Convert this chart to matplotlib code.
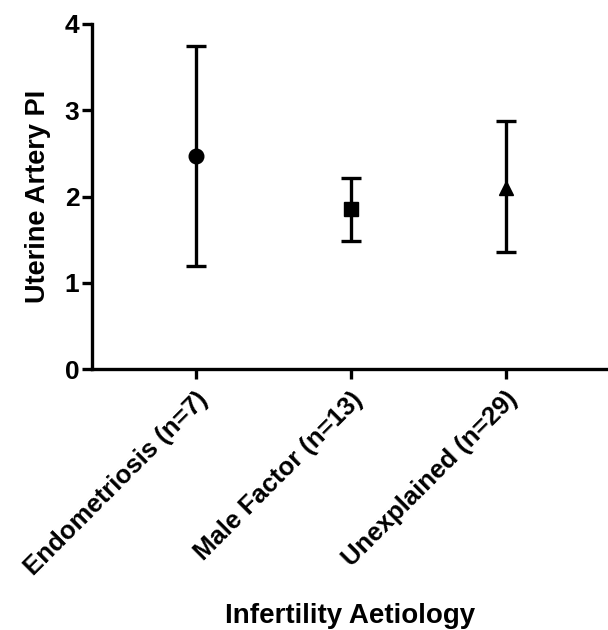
import numpy as np
import matplotlib.pyplot as plt

plt.rcParams['font.family'] = ['Liberation Sans', 'DejaVu Sans']
plt.rcParams['font.weight'] = 'bold'

groups = ['Endometriosis (n=7)', 'Male Factor (n=13)', 'Unexplained (n=29)']
means = [2.47, 1.86, 2.10]
upper = [3.74, 2.22, 2.87]
lower = [1.20, 1.49, 1.36]
markers = ['o', 's', '^']

fig = plt.figure(figsize=(6.08, 6.30), dpi=100)
ax = fig.add_axes([0.151, 0.414, 0.849, 0.548])

x = np.arange(len(groups))
for i in range(len(groups)):
    err = [[means[i] - lower[i]], [upper[i] - means[i]]]
    ax.errorbar(x[i], means[i], yerr=err, fmt=markers[i], color='black',
                markersize=10.5, elinewidth=2.4, capsize=7, capthick=2.4,
                clip_on=False)

ax.set_xlim(-0.67, 2.66)
ax.set_ylim(0, 4)
ax.set_yticks([0, 1, 2, 3, 4])
ax.set_xticks(x)
ax.set_xticklabels(groups, rotation=45, ha='right', rotation_mode='anchor',
                   fontsize=18.5, fontweight='bold')
ax.tick_params(axis='y', labelsize=19, width=2.4, length=7, pad=2)
ax.tick_params(axis='x', width=2.4, length=7, pad=6)
for lbl in ax.get_yticklabels():
    lbl.set_fontweight('bold')

for s in ['top', 'right']:
    ax.spines[s].set_visible(False)
for s in ['left', 'bottom']:
    ax.spines[s].set_linewidth(2.4)

ax.set_ylabel('Uterine Artery PI', fontsize=19.5, fontweight='bold', labelpad=10)
fig.text(0.576, 1 - 623 / 630, 'Infertility Aetiology', fontsize=20,
         fontweight='bold', ha='center', va='baseline')

fig.savefig('out.png', dpi=100)
